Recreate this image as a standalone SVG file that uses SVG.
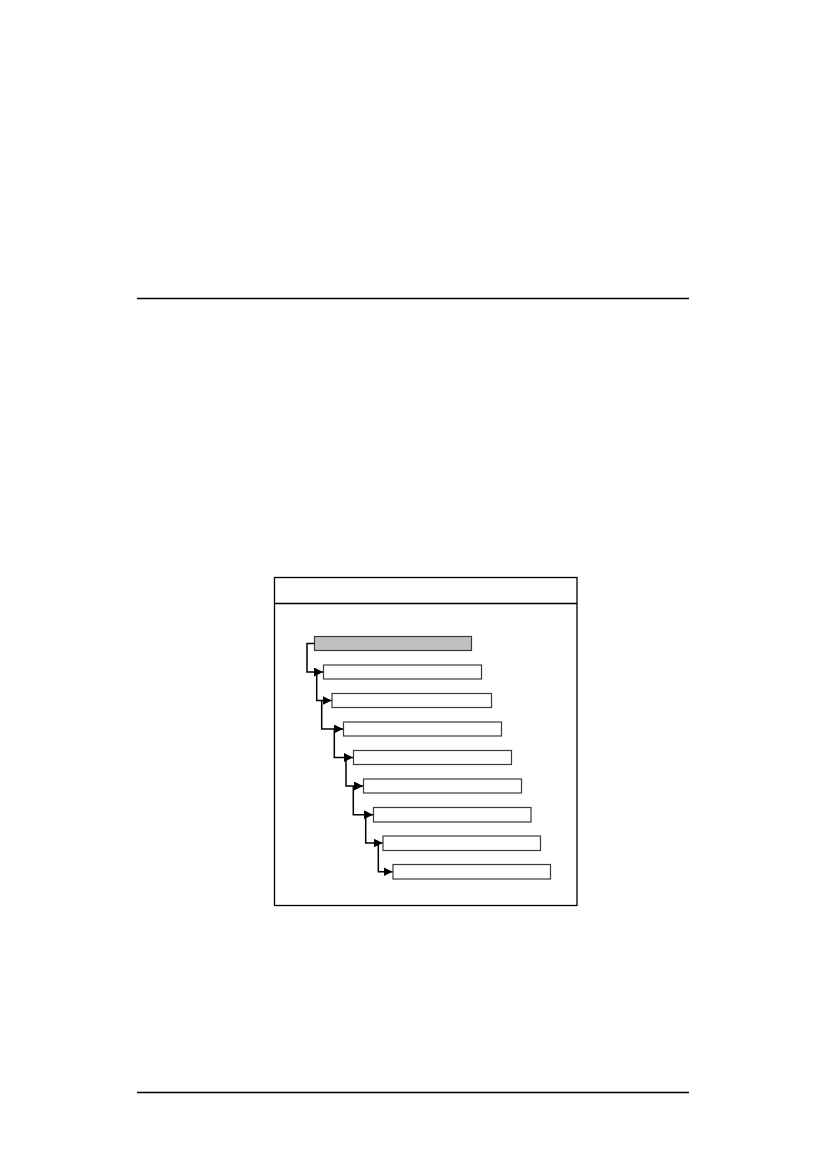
<svg xmlns="http://www.w3.org/2000/svg" width="827" height="1169" viewBox="0 0 827 1169">
<style>
.rule{stroke:#000;stroke-width:1.3}
.frame{fill:none;stroke:#000;stroke-width:1.3}
.node{fill:#fff;stroke:#3a3a3a;stroke-width:1.2}
.root{fill:#c0c0c0;stroke:#3a3a3a;stroke-width:1.2}
.conn{fill:none;stroke:#000;stroke-width:1.5}
</style>
<defs>
<marker id="arr" viewBox="0 0 10 10" refX="10" refY="5" markerWidth="9" markerHeight="9" markerUnits="userSpaceOnUse" orient="auto">
<path d="M0,0 L10,5 L0,10 z" fill="#000"/>
</marker>
</defs>
<rect width="827" height="1169" fill="#fff"/>
<line class="rule" x1="137" y1="298.5" x2="689" y2="298.5"/>
<line class="rule" x1="137" y1="1092.5" x2="689" y2="1092.5"/>
<g id="frame">
<rect class="frame" x="274.5" y="577.5" width="302.5" height="328"/>
<line class="frame" x1="274.5" y1="603.5" x2="577" y2="603.5"/>
</g>
<g id="n1"><rect class="root" x="314.5" y="636.5" width="157" height="14"/></g>
<g id="n2"><rect class="node" x="323.5" y="665" width="158" height="14"/></g>
<g id="n3"><rect class="node" x="332" y="693.5" width="159.5" height="14"/></g>
<g id="n4"><rect class="node" x="343.5" y="722" width="158" height="14"/></g>
<g id="n5"><rect class="node" x="353.5" y="750.5" width="158" height="14"/></g>
<g id="n6"><rect class="node" x="363.5" y="779" width="158" height="14"/></g>
<g id="n7"><rect class="node" x="373.5" y="807.5" width="157.5" height="14.5"/></g>
<g id="n8"><rect class="node" x="383" y="836" width="157.5" height="14.5"/></g>
<g id="n9"><rect class="node" x="393" y="864.5" width="157.5" height="14.5"/></g>
<g id="connectors">
<path class="conn" d="M314.5,643.5 H307 V672 H323" marker-end="url(#arr)"/>
<path class="conn" d="M316.7,672 V700.5 H331.5" marker-end="url(#arr)"/>
<path class="conn" d="M321.7,700.5 V729 H343" marker-end="url(#arr)"/>
<path class="conn" d="M334.3,729 V757.5 H353" marker-end="url(#arr)"/>
<path class="conn" d="M346,757.5 V786 H363" marker-end="url(#arr)"/>
<path class="conn" d="M353.3,786 V814.7 H373" marker-end="url(#arr)"/>
<path class="conn" d="M365.7,814.7 V843 H382.5" marker-end="url(#arr)"/>
<path class="conn" d="M378.3,843 V871.7 H392.5" marker-end="url(#arr)"/>
</g>
</svg>
